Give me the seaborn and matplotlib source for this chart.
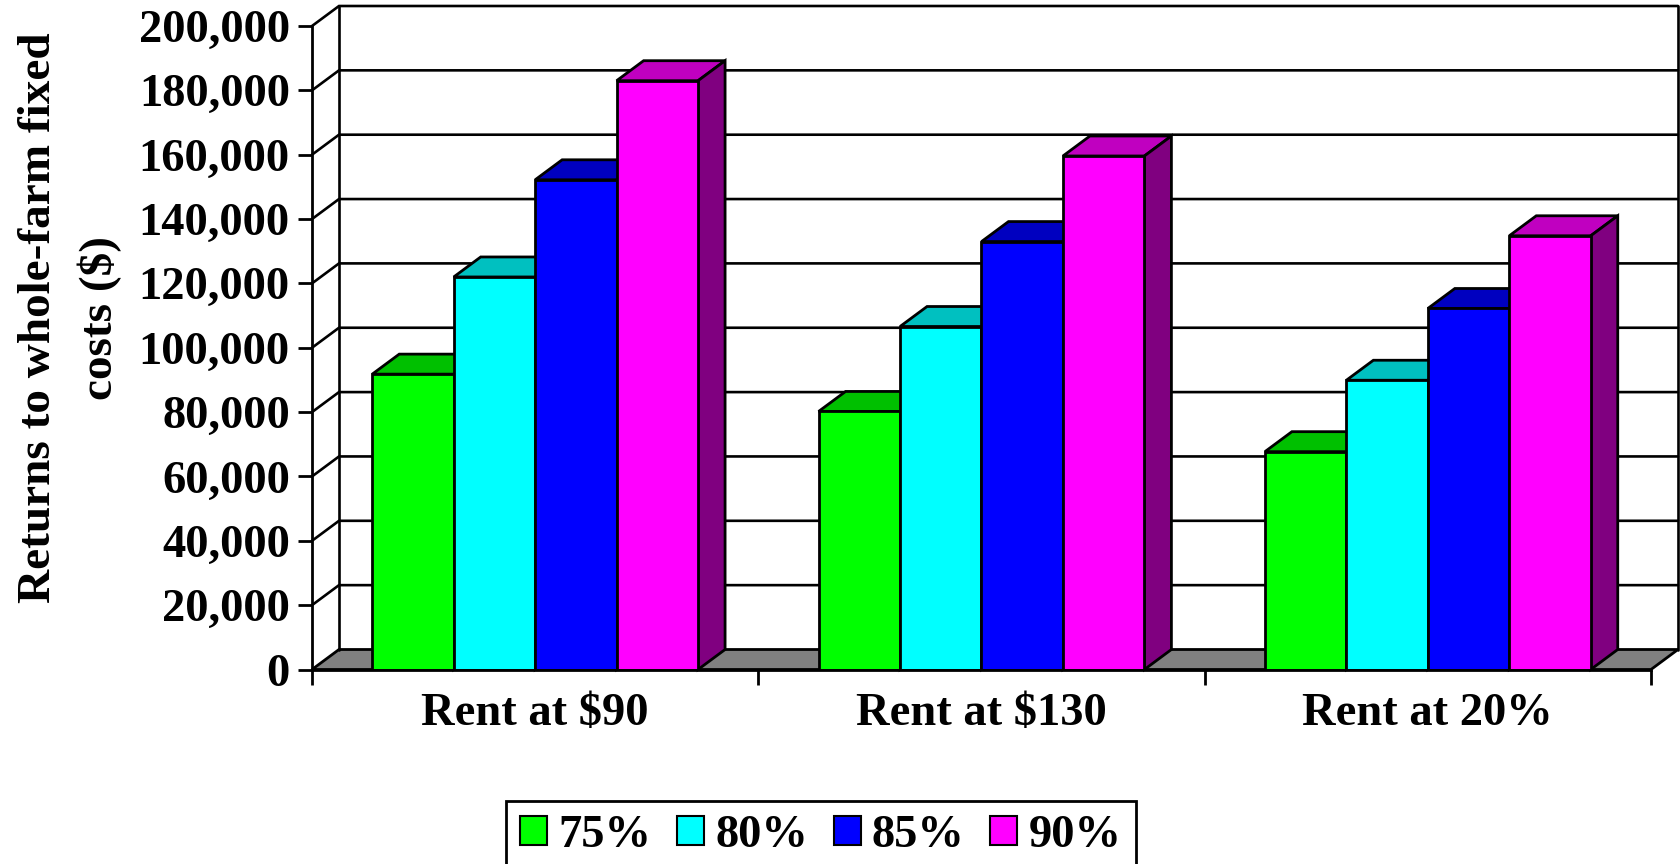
import numpy as np
import pandas as pd
import matplotlib
matplotlib.use("Agg")
import matplotlib.pyplot as plt
from matplotlib.patches import Polygon, Patch
from matplotlib.colors import to_hex
import seaborn as sns

# Rental scenarios on the x axis and yield levels as series
scenarios = ["Rent at $90", "Rent at $130", "Rent at 20%"]
levels = ["75%", "80%", "85%", "90%"]
returns_75 = [91800, 80200, 67700]
returns_80 = [122000, 106600, 89900]
returns_85 = [152200, 133000, 112200]
returns_90 = [183000, 159600, 134800]
y_ticks = [0, 20000, 40000, 60000, 80000, 100000, 120000, 140000, 160000, 180000, 200000]
y_tick_labels = ["0", "20,000", "40,000", "60,000", "80,000", "100,000",
                 "120,000", "140,000", "160,000", "180,000", "200,000"]

front_colors = ["#00FF00", "#00FFFF", "#0000FF", "#FF00FF"]
top_colors = ["#00C000", "#00C0C0", "#0000C0", "#C000C0"]
side_colors = ["#008000", "#008080", "#000080", "#800080"]

series = [returns_75, returns_80, returns_85, returns_90]
df = pd.DataFrame({
    "scenario": [s for _ in levels for s in scenarios],
    "level": [lv for lv in levels for _ in scenarios],
    "value": [v for vals in series for v in vals],
})

sns.set_style("white")
plt.rcParams["font.family"] = ["Liberation Serif", "DejaVu Serif"]
plt.rcParams["font.weight"] = "bold"
for key in ("text.color", "axes.labelcolor", "xtick.color", "ytick.color",
            "xtick.labelcolor", "ytick.labelcolor"):
    plt.rcParams[key] = "black"

W, H = 1681, 864
fig = plt.figure(figsize=(W / 100, H / 100), dpi=100)
ax = fig.add_axes([312 / W, (H - 669.5) / H, 1339 / W, 643.5 / H])

sns.barplot(data=df, x="scenario", y="value", hue="level", order=scenarios,
            hue_order=levels, palette=front_colors, width=0.73, saturation=1,
            edgecolor="black", linewidth=2, legend=False, ax=ax, zorder=3)

ax.set_xlim(-0.5, 2.5)
ax.set_ylim(0, 200000)

# depth of the 3-D box expressed in data units
pos = ax.get_position()
px_per_x = pos.width * W / 3.0
px_per_y = pos.height * H / 200000.0
dxd = 27 / px_per_x
dyd = 20 / px_per_y
ymax = y_ticks[-1]

# floor
ax.add_patch(Polygon([(-0.5, 0), (2.5, 0), (2.5 + dxd, dyd), (-0.5 + dxd, dyd)],
                     closed=True, facecolor="#808080", edgecolor="black",
                     linewidth=2, zorder=1, clip_on=False))
# side wall diagonals and back wall gridlines
for t in y_ticks[1:]:
    ax.plot([-0.5, -0.5 + dxd, 2.5 + dxd], [t, t + dyd, t + dyd],
            color="black", linewidth=1.9, zorder=1, clip_on=False,
            solid_joinstyle="miter")
for xe in (-0.5 + dxd, 2.5 + dxd):
    ax.plot([xe, xe], [dyd, ymax + dyd], color="black", linewidth=1.9,
            zorder=1, clip_on=False)

# top and side faces of each column
for bar in ax.patches[:]:
    if not isinstance(bar, matplotlib.patches.Rectangle):
        continue
    fc = to_hex(bar.get_facecolor())
    if fc.upper() not in front_colors:
        continue
    k = front_colors.index(fc.upper())
    x0, w, h = bar.get_x(), bar.get_width(), bar.get_height()
    x1 = x0 + w
    ax.add_patch(Polygon([(x0, h), (x1, h), (x1 + dxd, h + dyd), (x0 + dxd, h + dyd)],
                         closed=True, facecolor=top_colors[k], edgecolor="black",
                         linewidth=2, zorder=2.5, clip_on=False))
    ax.add_patch(Polygon([(x1, 0), (x1, h), (x1 + dxd, h + dyd), (x1 + dxd, dyd)],
                         closed=True, facecolor=side_colors[k], edgecolor="black",
                         linewidth=2, zorder=2.5, clip_on=False))

# axes, ticks and labels
for side in ("top", "right"):
    ax.spines[side].set_visible(False)
for side in ("left", "bottom"):
    ax.spines[side].set_linewidth(2)
    ax.spines[side].set_color("black")
    ax.spines[side].set_zorder(4)

ax.set_yticks(y_ticks, y_tick_labels)
ax.tick_params(axis="y", direction="out", length=10, width=2, pad=6,
               labelsize=33.5, left=True, colors="black")
ax.set_xticks(range(len(scenarios)), scenarios)
ax.set_xticks([-0.5, 0.5, 1.5, 2.5], minor=True)
ax.tick_params(axis="x", which="major", length=0, pad=17, labelsize=33.5,
               colors="black")
ax.tick_params(axis="x", which="minor", direction="out", length=11, width=2,
               bottom=True, colors="black")
for lab in ax.get_xticklabels() + ax.get_yticklabels():
    lab.set_fontweight("bold")
    lab.set_color("black")
ax.set_xlabel("")
ax.set_ylabel("")

fig.text(70 / W, 1 - 318 / H, "Returns to whole-farm fixed\ncosts ($)",
         rotation=90, ha="center", va="center", multialignment="center",
         linespacing=1.5, fontsize=34, fontweight="bold", color="black")

handles = [Patch(facecolor=c, edgecolor="black", linewidth=1.5) for c in front_colors]
leg = fig.legend(handles, levels, loc="upper center",
                 bbox_to_anchor=(821 / W, 1 - 801 / H), ncol=4, frameon=True,
                 fancybox=False, edgecolor="black", framealpha=1,
                 prop={"size": 33.5, "weight": "bold"},
                 handlelength=0.58, handleheight=0.57, handletextpad=0.24,
                 columnspacing=0.55, borderpad=0.3, borderaxespad=0)
leg.get_frame().set_linewidth(2)
for txt in leg.get_texts():
    txt.set_color("black")

fig.savefig("out.png", dpi=100)
